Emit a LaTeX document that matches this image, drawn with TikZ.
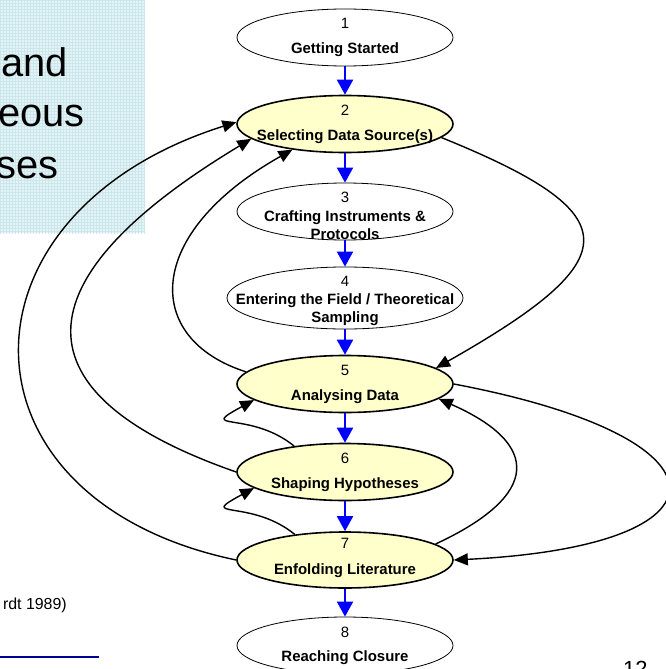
\documentclass[tikz,border=0pt]{standalone}
\usepackage{fontspec}
\setmainfont{Liberation Sans}
\usetikzlibrary{shapes.geometric,arrows.meta}

\definecolor{stagefill}{RGB}{255,255,204}
\definecolor{panelbg}{RGB}{228,244,246}
\definecolor{panelgrid}{RGB}{204,231,236}
\definecolor{linkblue}{RGB}{0,0,153}

\tikzset{
  stage/.style={ellipse, draw=black, line width=0.8bp, fill=white,
    minimum width=216bp, minimum height=57bp, inner sep=0pt},
  keystage/.style={stage, fill=stagefill, line width=1.6bp},
  stagetext/.style={align=center, inner sep=0pt,
    font=\fontsize{15}{18}\selectfont},
  flow/.style={draw=blue, line width=2bp, -{Triangle[length=15bp,width=16bp]}},
  loopback/.style={draw=black, line width=1.4bp,
    -{Triangle[length=14bp,width=12bp]}},
  bigword/.style={anchor=base west, inner sep=0pt,
    font=\fontsize{40}{48}\selectfont},
}

\begin{document}
\begin{tikzpicture}[x=1bp,y=-1bp]
\useasboundingbox (0,0) rectangle (666,669);

% textured panel on the left
\fill[panelbg] (0,0) rectangle (145,233);
\begin{scope}
  \clip (0,0) rectangle (145,233);
  \draw[panelgrid, line width=0.7bp, step=3bp] (0,0) grid (146,234);
\end{scope}
\node[bigword] (w1) at (1,77) {and};
\node[bigword] (w2) at (-2,127) {eous};
\node[bigword] (w3) at (-4,178) {ses};

% citation and link underline
\node[anchor=base east, inner sep=0pt, font=\fontsize{16}{18}\selectfont]
  (cite) at (67,609) {rdt 1989)};
\coordinate (ulA) at (0,657);
\coordinate (ulB) at (99,657);
\draw[linkblue, line width=1.2bp] (ulA) -- (ulB);

% page number
\node[anchor=base west, inner sep=0pt, font=\fontsize{22}{26}\selectfont]
  (pg) at (623,676) {12};

% stages
\node[stage]    (n1) at (345,37.5) {};
\node[keystage] (n2) at (345,124) {};
\node[stage]    (n3) at (345,211.5) {};
\node[stage, minimum width=236bp, minimum height=62bp] (n4) at (345,298) {};
\node[keystage] (n5) at (345,384) {};
\node[keystage] (n6) at (345,472) {};
\node[keystage, minimum height=56bp] (n7) at (345,560) {};
\node[stage]    (n8) at (345,645.5) {};

\node[stagetext] (t1) at (n1) {1\\[7bp]\textbf{Getting Started}};
\node[stagetext] (t2) at (n2) {2\\[7bp]\textbf{Selecting Data Source(s)}};
\node[stagetext, yshift=-4bp] (t3) at (n3)
  {3\\[1bp]\textbf{Crafting Instruments \&}\\\textbf{Protocols}};
\node[stagetext, yshift=-3bp] (t4) at (n4)
  {4\\\textbf{Entering the Field / Theoretical}\\\textbf{Sampling}};
\node[stagetext] (t5) at (n5) {5\\[7bp]\textbf{Analysing Data}};
\node[stagetext] (t6) at (n6) {6\\[7bp]\textbf{Shaping Hypotheses}};
\node[stagetext, yshift=2bp] (t7) at (n7) {7\\[8bp]\textbf{Enfolding Literature}};
\node[stagetext] (t8) at (n8) {8\\[6bp]\textbf{Reaching Closure}};

% main sequence
\draw[flow] (n1) -- (n2);
\draw[flow] (n2) -- (n3);
\draw[flow] (n3) -- (n4);
\draw[flow] (n4) -- (n5);
\draw[flow] (n5) -- (n6);
\draw[flow] (n6) -- (n7);
\draw[flow] (n7) -- (n8);

% iterations on the right
\draw[loopback] (n2.-8) .. controls (630,214) and (630,258) .. (n5.10);
\draw[loopback] (n5.east) .. controls (739,438) and (739,546) .. (n7.east);
\draw[loopback] (n7.10) .. controls (541,495) and (541,444) .. (n5.-9);

% iterations on the left
\draw[loopback] (n7.west) .. controls (-52,500) and (-52,213) .. (n2.179);
\draw[loopback] (n6.west) .. controls (15,395) and (15,281) .. (n2.189);
\draw[loopback] (n5.173) .. controls (143,339) and (143,234) .. (n2.206);
\draw[loopback] (n6.153) .. controls (250,410) and (195,432) .. (n5.190);
\draw[loopback] (n7.153) .. controls (250,498) and (195,520) .. (n6.190);
\end{tikzpicture}
\end{document}
